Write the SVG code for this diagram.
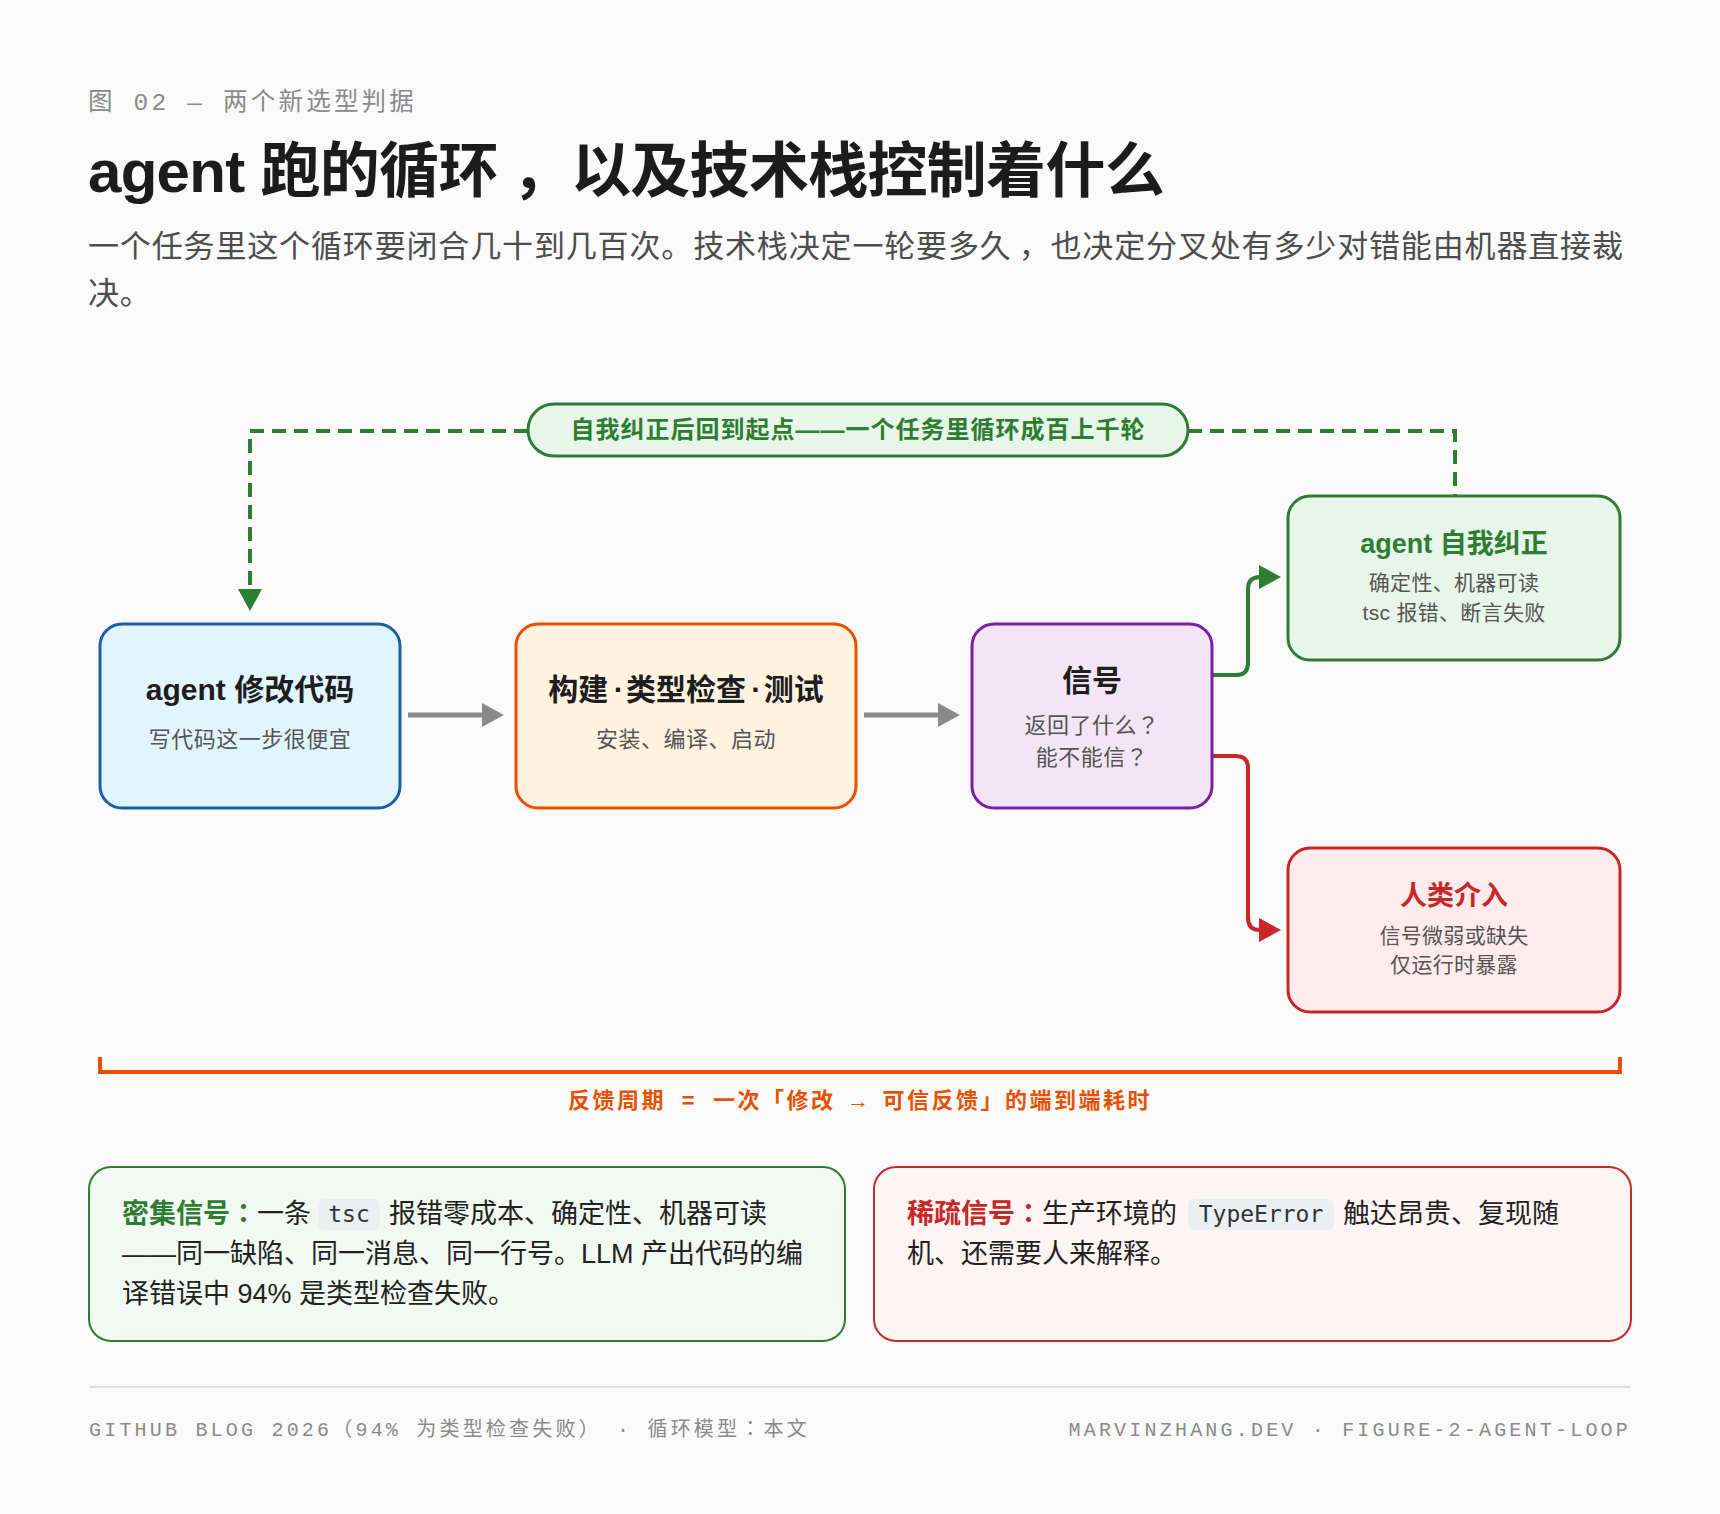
<svg xmlns="http://www.w3.org/2000/svg" width="1720" height="1514" viewBox="0 0 1720 1514">
<style>
.sans{font-family:"Liberation Sans","Noto Sans CJK SC",sans-serif}
.mono{font-family:"Liberation Mono","Noto Sans CJK SC",monospace}
.tc{font-family:"Noto Sans CJK TC",sans-serif}
.ntitle{font-family:"Liberation Sans","Noto Sans CJK SC",sans-serif;font-weight:700;font-size:30px;fill:#1e1e1e;text-anchor:middle}
.nsub{font-family:"Liberation Sans","Noto Sans CJK SC",sans-serif;font-size:22px;fill:#555;text-anchor:middle;letter-spacing:0.5px}
.rtitle{font-family:"Liberation Sans","Noto Sans CJK SC",sans-serif;font-weight:700;font-size:27px;text-anchor:middle}
.rsub{font-family:"Liberation Sans","Noto Sans CJK SC",sans-serif;font-size:21px;fill:#555;text-anchor:middle;letter-spacing:0.3px}
.node{stroke-width:3}
.card{font-family:"Liberation Sans","Noto Sans CJK SC",sans-serif;font-size:27px;fill:#222}
.code{font-family:"DejaVu Sans Mono","Liberation Mono",monospace;font-size:23px;fill:#333;text-anchor:middle}
.pillbg{fill:#eceff1}
.foot{font-family:"Liberation Mono","Noto Sans CJK SC",monospace;font-size:20px;letter-spacing:3.2px;fill:#8a8a8a}
</style>
<defs>
<marker id="ahGray" viewBox="0 0 22 24" refX="4" refY="12" markerWidth="22" markerHeight="24" markerUnits="userSpaceOnUse" orient="auto"><path d="M0,0 L22,12 L0,24 z" fill="#8a8a8a"/></marker>
<marker id="ahGreen" viewBox="0 0 22 24" refX="4" refY="12" markerWidth="22" markerHeight="24" markerUnits="userSpaceOnUse" orient="auto"><path d="M0,0 L22,12 L0,24 z" fill="#2e7d32"/></marker>
<marker id="ahRed" viewBox="0 0 22 24" refX="4" refY="12" markerWidth="22" markerHeight="24" markerUnits="userSpaceOnUse" orient="auto"><path d="M0,0 L22,12 L0,24 z" fill="#c62828"/></marker>
</defs>
<rect width="1720" height="1514" fill="#fafafa"/>

<g id="header">
<text x="88" y="110" class="mono" font-size="24.5" letter-spacing="3.2" fill="#8a8a8a">图 02 — 两个新选型判据</text>
<text x="88" y="192" class="sans" font-size="60" font-weight="700" letter-spacing="-0.7" fill="#1c1c1c">agent 跑的循环<tspan dx="14">，以及技术栈控制着什么</tspan></text>
<text x="88" y="257" class="sans" font-size="31" letter-spacing="0.85" fill="#4d4d4d">一个任务里这个循环要闭合几十到几百次。技术栈决定一轮要多久<tspan dx="7">，也决定分叉处有多少对错能由机器直接裁</tspan></text>
<text x="88" y="304" class="sans" font-size="31" letter-spacing="0.85" fill="#4d4d4d">决。</text>
</g>

<g id="connectors" fill="none">
<path d="M528,431 H250 V593" stroke="#2e7d32" stroke-width="4" stroke-dasharray="14 8" marker-end="url(#ahGreen)"/>
<path d="M1188,431 H1455 V496" stroke="#2e7d32" stroke-width="4" stroke-dasharray="14 8"/>
<path d="M408,715 H486" stroke="#8a8a8a" stroke-width="5" marker-end="url(#ahGray)"/>
<path d="M864,715 H942" stroke="#8a8a8a" stroke-width="5" marker-end="url(#ahGray)"/>
<path d="M1212,675 H1236 Q1248,675 1248,663 V589 Q1248,577 1260,577 H1263" stroke="#2e7d32" stroke-width="4" marker-end="url(#ahGreen)"/>
<path d="M1212,756 H1236 Q1248,756 1248,768 V918 Q1248,930 1260,930 H1263" stroke="#c62828" stroke-width="4" marker-end="url(#ahRed)"/>
</g>

<g id="loop-label">
<rect x="528" y="404" width="660" height="52" rx="26" fill="#e8f5e9" stroke="#2e7d32" stroke-width="3"/>
<text x="858" y="438" class="sans" font-size="24" font-weight="700" letter-spacing="1" fill="#2e7d32" text-anchor="middle">自我纠正后回到起点——一个任务里循环成百上千轮</text>
</g>

<g id="node-modify">
<rect class="node" x="100" y="624" width="300" height="184" rx="22" fill="#e1f5fe" stroke="#1c5fa8"/>
<text class="ntitle" x="250" y="700">agent 修改代码</text>
<text class="nsub" x="250" y="747">写代码这一步很便宜</text>
</g>

<g id="node-build">
<rect class="node" x="516" y="624" width="340" height="184" rx="22" fill="#fff3e0" stroke="#e65100"/>
<text class="ntitle" x="686" y="700">构建<tspan letter-spacing="-3"> · </tspan>类型检查<tspan letter-spacing="-3"> · </tspan>测试</text>
<text class="nsub" x="686" y="747">安装、编译、启动</text>
</g>

<g id="node-signal">
<rect class="node" x="972" y="624" width="240" height="184" rx="22" fill="#f3e5f5" stroke="#7b1fa2"/>
<text class="ntitle" x="1092" y="691">信号</text>
<text class="nsub" x="1092" y="733">返回了什么<tspan class="tc">？</tspan></text>
<text class="nsub" x="1092" y="765">能不能信<tspan class="tc">？</tspan></text>
</g>

<g id="node-selffix">
<rect class="node" x="1288" y="496" width="332" height="164" rx="22" fill="#e8f5e9" stroke="#2e7d32"/>
<text class="rtitle" x="1454" y="553" fill="#2e7d32">agent 自我纠正</text>
<text class="rsub" x="1454" y="590">确定性、机器可读</text>
<text class="rsub" x="1454" y="620">tsc 报错、断言失败</text>
</g>

<g id="node-human">
<rect class="node" x="1288" y="848" width="332" height="164" rx="22" fill="#ffebee" stroke="#c62828"/>
<text class="rtitle" x="1454" y="905" fill="#c62828">人类介入</text>
<text class="rsub" x="1454" y="943">信号微弱或缺失</text>
<text class="rsub" x="1454" y="972">仅运行时暴露</text>
</g>

<g id="feedback-cycle">
<path d="M100,1057 V1072 H1620 V1057" fill="none" stroke="#e65100" stroke-width="4"/>
<text x="860" y="1108" class="mono" font-size="22" font-weight="700" letter-spacing="2.5" fill="#e65100" text-anchor="middle">反馈周期 = 一次「修改 → 可信反馈」的端到端耗时</text>
</g>

<g id="card-dense">
<rect x="89" y="1167" width="756" height="174" rx="22" fill="#f2f9f2" stroke="#2e7d32" stroke-width="2"/>
<rect class="pillbg" x="318" y="1199" width="62" height="31" rx="6"/>
<text class="card" x="122" y="1223"><tspan font-weight="700" fill="#2e7d32">密集信号<tspan class="tc">：</tspan></tspan>一条</text>
<text class="code" x="349" y="1222">tsc</text>
<text class="card" x="389" y="1223">报错零成本、确定性、机器可读</text>
<text class="card" x="122" y="1263">——同一缺陷、同一消息、同一行号。LLM 产出代码的编</text>
<text class="card" x="122" y="1303">译错误中 94% 是类型检查失败。</text>
</g>

<g id="card-sparse">
<rect x="874" y="1167" width="757" height="174" rx="22" fill="#fff5f5" stroke="#c62828" stroke-width="2"/>
<rect class="pillbg" x="1188" y="1199" width="146" height="31" rx="6"/>
<text class="card" x="907" y="1223"><tspan font-weight="700" fill="#c62828">稀疏信号<tspan class="tc">：</tspan></tspan>生产环境的</text>
<text class="code" x="1261" y="1222">TypeError</text>
<text class="card" x="1343" y="1223">触达昂贵、复现随</text>
<text class="card" x="907" y="1263">机、还需要人来解释。</text>
</g>

<g id="footer">
<line x1="89" y1="1387" x2="1631" y2="1387" stroke="#dddddd" stroke-width="2"/>
<text class="foot" x="89" y="1436">GITHUB BLOG 2026（94% 为类型检查失败） · 循环模型<tspan class="tc">：</tspan>本文</text>
<text class="foot" x="1631" y="1436" text-anchor="end">MARVINZHANG.DEV · FIGURE-2-AGENT-LOOP</text>
</g>
</svg>
